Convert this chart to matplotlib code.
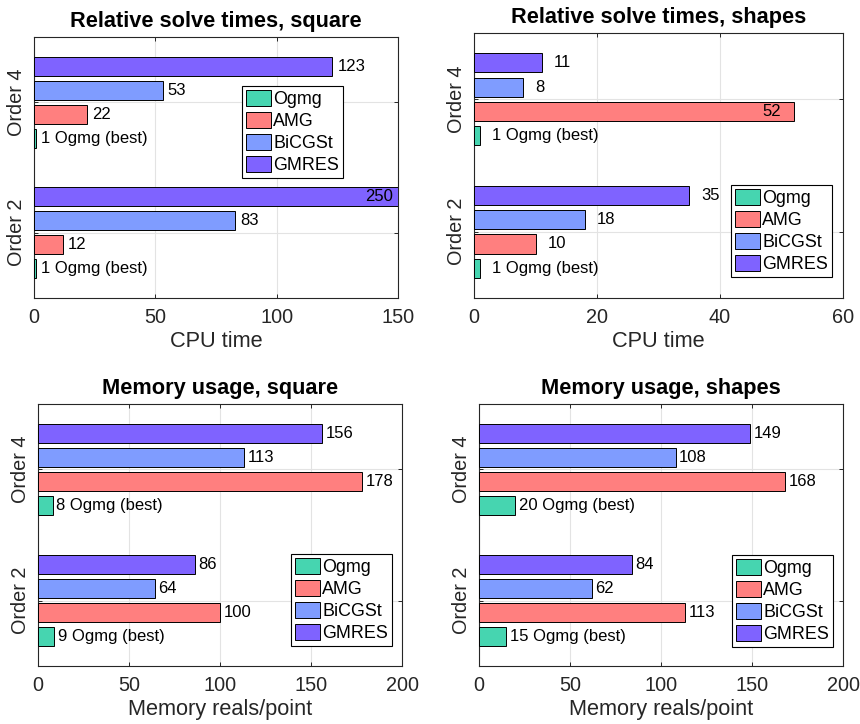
import matplotlib
matplotlib.use("Agg")
import matplotlib.pyplot as plt
import numpy as np

plt.rcParams['font.family'] = ['Liberation Sans', 'DejaVu Sans']

solvers = ['Ogmg', 'AMG', 'BiCGSt', 'GMRES']
orders = ['Order 2', 'Order 4']
colors = ['#46d5b0', '#ff7f7f', '#7f9cff', '#7f63ff']

# rows: Order 2, Order 4 ; cols: Ogmg, AMG, BiCGSt, GMRES
time_square = [[1, 12, 83, 250], [1, 22, 53, 123]]
time_shapes = [[1, 10, 18, 35], [1, 52, 8, 11]]
mem_square = [[9, 100, 64, 86], [8, 178, 113, 156]]
mem_shapes = [[15, 113, 62, 84], [20, 168, 108, 149]]

# labels drawn inside the bar end: (order row, solver col)
inside_time_square = [(0, 3)]
inside_time_shapes = [(1, 1)]

GRAY = '#262626'
TICK_FS = 14.3
LAB_FS = 15.7


def plot_panel(rect, data, title, xlabel, xmax, xticks, leg_xy, inside=()):
    ax = fig.add_axes(rect)
    data = np.array(data)
    offsets = [-0.275, -0.0917, 0.0917, 0.275]
    h = 0.145
    for j in range(4):
        y = np.arange(1, 3) + offsets[j]
        vals = data[:, j]
        ax.barh(y, np.minimum(vals, xmax), height=h, color=colors[j],
                edgecolor='black', linewidth=0.7, label=solvers[j], zorder=3)
        for i, (yy, v) in enumerate(zip(y, vals)):
            txt = '%d' % v
            if j == 0:
                txt += ' Ogmg (best)'
            if (i, j) in inside:
                ax.text(min(v, xmax) - 2, yy, txt, ha='right',
                        va='center', fontsize=12, zorder=4)
            else:
                ax.text(v + 2, yy, txt, ha='left', va='center',
                        fontsize=12, zorder=4)
    ax.set_xlim(0, xmax)
    ax.set_ylim(0.5, 2.5)
    ax.set_xticks(xticks)
    ax.set_yticks([1, 2])
    ax.set_yticklabels(orders, rotation=90, va='center')
    ax.grid(True, color='#e3e3e3', linewidth=0.8, zorder=0)
    ax.tick_params(direction='in', length=3, width=0.7, colors=GRAY,
                   labelsize=TICK_FS, top=True, right=True)
    ax.tick_params(axis='x', pad=7)
    ax.tick_params(axis='y', pad=6)
    for s in ax.spines.values():
        s.set_color(GRAY)
        s.set_linewidth(0.8)
    ax.set_title(title, fontsize=LAB_FS, fontweight='bold', pad=7)
    ax.set_xlabel(xlabel, fontsize=LAB_FS, color=GRAY, labelpad=3)
    leg = ax.legend(loc='upper left', bbox_to_anchor=leg_xy,
                    bbox_transform=fig.transFigure, fontsize=12.9,
                    fancybox=False, framealpha=1, edgecolor='black',
                    borderaxespad=0, borderpad=0.2, handlelength=1.4,
                    handleheight=1.0, handletextpad=0.15, labelspacing=0.22)
    leg.get_frame().set_linewidth(0.8)
    return ax


fig = plt.figure(figsize=(8.6, 7.24), dpi=100)

plot_panel([0.0395, 0.5884, 0.4233, 0.3605], time_square,
           'Relative solve times, square', 'CPU time', 150,
           [0, 50, 100, 150], (0.2814, 0.8812), inside_time_square)
plot_panel([0.5512, 0.5884, 0.429, 0.366], time_shapes,
           'Relative solve times, shapes', 'CPU time', 60,
           [0, 20, 40, 60], (0.850, 0.7445), inside_time_shapes)
plot_panel([0.0442, 0.0801, 0.4233, 0.3619], mem_square,
           'Memory usage, square', 'Memory reals/point', 200,
           [0, 50, 100, 150, 200], (0.3384, 0.2348))
plot_panel([0.557, 0.0801, 0.4233, 0.3619], mem_shapes,
           'Memory usage, shapes', 'Memory reals/point', 200,
           [0, 50, 100, 150, 200], (0.8512, 0.2334))

fig.savefig('out.png', dpi=100)
